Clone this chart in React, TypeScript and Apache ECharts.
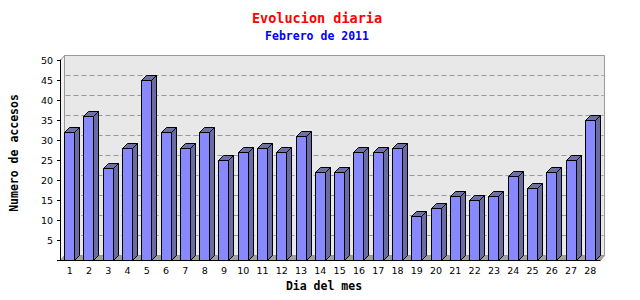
import React, { useEffect, useRef } from "react";
import * as echarts from "echarts";

const days = ["1","2","3","4","5","6","7","8","9","10","11","12","13","14","15","16","17","18","19","20","21","22","23","24","25","26","27","28"];
const visits = [32,36,23,28,45,32,28,32,25,27,28,27,31,22,22,27,27,28,11,13,16,15,16,21,18,22,25,35];
const gridValues = [5,10,15,20,25,30,35,40,45];
const titleText = "Evolucion diaria";
const subtitleText = "Febrero de 2011";
const xName = "Dia del mes";
const yName = "Numero de accesos";

const WDX = 4, WDY = 5; // wall depth
const BDX = 5, BDY = 5; // bar depth

export default function App() {
  const ref = useRef<HTMLDivElement>(null);
  useEffect(() => {
    document.body.style.margin = "0";
    const chart = echarts.init(ref.current!, null, { renderer: "svg" });
    const mono = "DejaVu Sans Mono";
    chart.setOption({
      animation: false,
      backgroundColor: "#ffffff",
      title: [
        { text: titleText, left: 312, top: 6, textAlign: "center",
          textStyle: { color: "#ff0000", fontFamily: mono, fontSize: 13.5, fontWeight: "bold" } },
        { text: subtitleText, left: 312, top: 25, textAlign: "center",
          textStyle: { color: "#0000ff", fontFamily: mono, fontSize: 11.5, fontWeight: "bold" } },
      ],
      grid: { left: 60, right: 40, top: 60, bottom: 40, containLabel: false, outerBoundsMode: "none" },
      xAxis: {
        type: "category",
        data: days,
        z: 10,
        name: xName,
        nameLocation: "middle",
        nameGap: 16,
        nameTextStyle: { fontFamily: mono, fontSize: 11.5, fontWeight: "bold", color: "#000", padding: [0, 12, 0, 0] },
        axisLine: { lineStyle: { color: "#000", width: 1 } },
        axisTick: { length: 3, lineStyle: { color: "#000" } },
        axisLabel: { fontFamily: "DejaVu Sans", fontSize: 9.5, color: "#000", margin: 5 },
        splitLine: { show: false },
      },
      yAxis: {
        type: "value",
        min: 0,
        max: 50,
        interval: 5,
        z: 10,
        name: yName,
        nameLocation: "middle",
        nameGap: 40,
        nameRotate: 90,
        nameTextStyle: { fontFamily: mono, fontSize: 11.5, fontWeight: "bold", color: "#000", padding: [0, 0, 0, 14] },
        axisLine: { show: true, lineStyle: { color: "#000", width: 1 } },
        axisTick: { show: true, length: 3, lineStyle: { color: "#000" } },
        axisLabel: {
          fontFamily: "DejaVu Sans", fontSize: 9.5, color: "#000", margin: 7,
          padding: [5, 0, 0, 0],
          formatter: (v: number) => (v === 0 ? "" : String(v)),
        },
        splitLine: { show: false },
      },
      series: [
        {
          type: "custom",
          z: 1,
          silent: true,
          data: [[0, 0]],
          renderItem: (params: any, api: any) => {
            const cs = params.coordSys;
            const x = Math.round(cs.x) + 0.5;
            const y = Math.round(cs.y) + 0.5;
            const w = Math.round(cs.width);
            const h = Math.round(cs.height);
            const children: any[] = [
              { type: "rect", shape: { x: x + WDX, y: y - WDY, width: w, height: h },
                style: { fill: "#e8e8e8", stroke: "#999999", lineWidth: 1 } },
              { type: "polygon", shape: { points: [[x, y], [x + WDX, y - WDY], [x + WDX, y + h - WDY], [x, y + h]] },
                style: { fill: "#f2f2f2", stroke: "#999999", lineWidth: 1 } },
              { type: "polygon", shape: { points: [[x, y + h], [x + WDX, y + h - WDY], [x + w + WDX, y + h - WDY], [x + w, y + h]] },
                style: { fill: "#a0a0a0", stroke: "#999999", lineWidth: 1 } },
            ];
            gridValues.forEach((v) => {
              const gy = Math.round(api.coord([0, v])[1]) - WDY + 0.5;
              children.push({
                type: "line",
                shape: { x1: x + WDX + 1, y1: gy, x2: x + w + WDX - 1, y2: gy },
                style: { stroke: "#999999", lineWidth: 1, lineDash: [5, 3] },
              });
            });
            return { type: "group", children };
          },
        },
        {
          type: "custom",
          z: 5,
          data: visits.map((v, i) => [i, v]),
          renderItem: (params: any, api: any) => {
            const i = api.value(0);
            const v = api.value(1);
            const top = api.coord([i, v]);
            const base = api.coord([i, 0]);
            const fx = Math.floor(top[0] - 5) + 0.5;
            const fw = 10;
            const ty = Math.round(top[1]) + 0.5;
            const by = Math.round(base[1]) + 0.5;
            const st = { stroke: "#000000", lineWidth: 1 };
            return {
              type: "group",
              children: [
                { type: "polygon", shape: { points: [[fx + fw, ty], [fx + fw + BDX, ty - BDY], [fx + fw + BDX, by - BDY], [fx + fw, by]] },
                  style: { fill: "#6b6ba3", ...st } },
                { type: "polygon", shape: { points: [[fx, ty], [fx + BDX, ty - BDY], [fx + fw + BDX, ty - BDY], [fx + fw, ty]] },
                  style: { fill: "#6e6ea8", ...st } },
                { type: "rect", shape: { x: fx, y: ty, width: fw, height: by - ty },
                  style: { fill: "#8888ff", ...st } },
              ],
            };
          },
        },
      ],
    });
    return () => chart.dispose();
  }, []);
  return <div ref={ref} style={{ width: 640, height: 300 }} />;
}
